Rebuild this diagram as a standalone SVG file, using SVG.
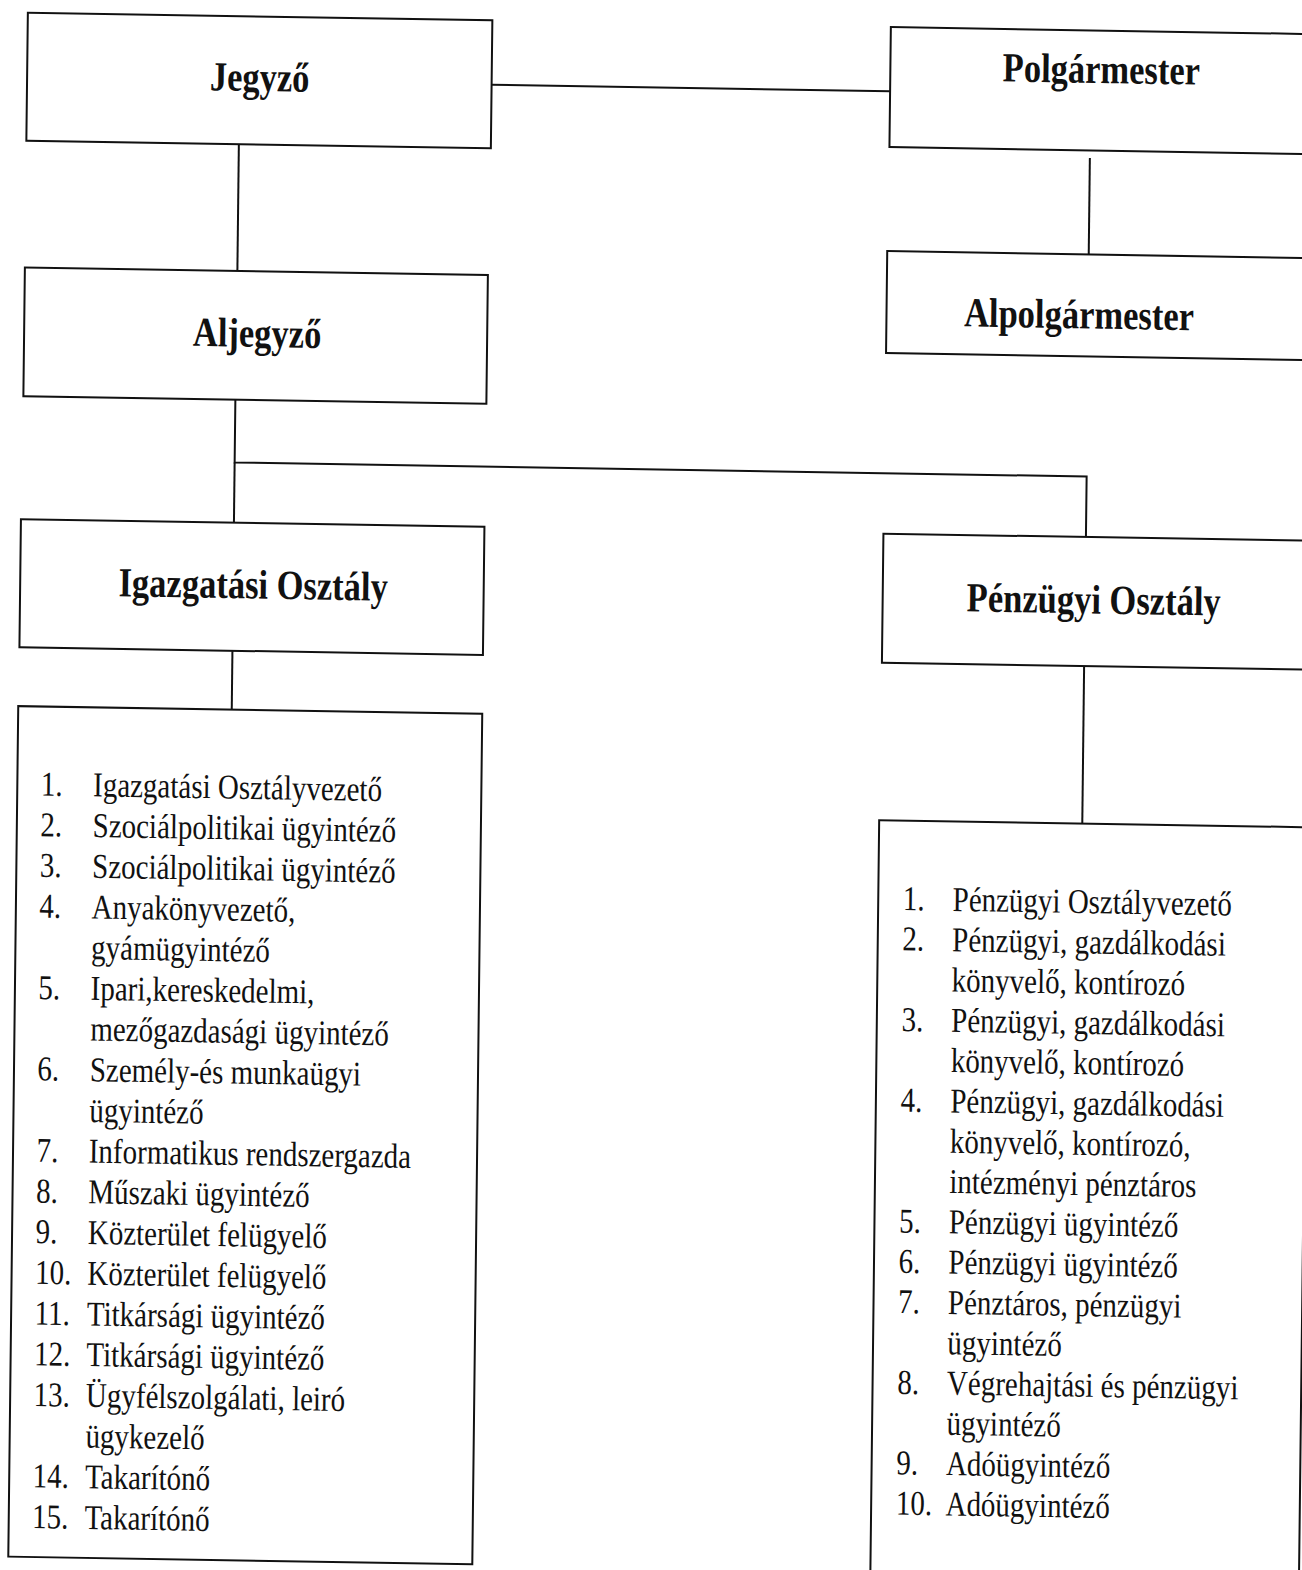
<svg xmlns="http://www.w3.org/2000/svg" width="1302" height="1570" viewBox="0 0 1302 1570">
<style>
.box{fill:#fff;stroke:#111;stroke-width:2}
.ln{fill:none;stroke:#111;stroke-width:2}
.t{font-family:"Liberation Serif","Times New Roman",serif;font-weight:bold;font-size:34.5px;fill:#111;text-anchor:middle}
.l{font-family:"Liberation Serif","Times New Roman",serif;font-size:29px;fill:#111}
</style>
<rect width="1302" height="1570" fill="#fff"/>
<g transform="matrix(1,0.0165,-0.0117,1,0,0)">
<g id="connectors">
<line class="ln" x1="492.5" y1="76.6" x2="891" y2="76.6"/>
<line class="ln" x1="1091.5" y1="140" x2="1091.5" y2="236.4"/>
<line class="ln" x1="240.5" y1="140.2" x2="240.5" y2="267"/>
<polyline class="ln" points="240,395.7 240,458.5 1092,458.5 1092,519"/>
<line class="ln" x1="240" y1="458.5" x2="240" y2="518.7"/>
<line class="ln" x1="240" y1="646.8" x2="240" y2="705.7"/>
<line class="ln" x1="1091.7" y1="648" x2="1091.7" y2="805.5"/>
</g>
<g id="jegyzo">
<rect class="box" x="28" y="12.2" width="464.5" height="128"/>
<text class="t" transform="translate(260.5,86.7) scale(1,1.2)">Jegyző</text>
</g>
<g id="polgarmester">
<rect class="box" x="891" y="12.4" width="460" height="120"/>
<text class="t" transform="translate(1102,64.8) scale(1,1.2)">Polgármester</text>
</g>
<g id="alpolgarmester">
<rect class="box" x="890" y="236.4" width="460" height="102"/>
<text class="t" transform="translate(1082.5,310.4) scale(1,1.2)">Alpolgármester</text>
</g>
<g id="aljegyzo">
<rect class="box" x="28" y="267" width="463" height="128.7"/>
<text class="t" transform="translate(261,342.6) scale(1,1.2)">Aljegyző</text>
</g>
<g id="igazgatasi">
<rect class="box" x="27" y="518.7" width="463.5" height="128.1"/>
<text class="t" transform="translate(260,594.1) scale(1,1.2)">Igazgatási Osztály</text>
</g>
<g id="penzugyi">
<rect class="box" x="889.5" y="519" width="460" height="129"/>
<text class="t" transform="translate(1100.5,595.3) scale(1,1.2)">Pénzügyi Osztály</text>
</g>
<g id="igazgatasi-lista">
<rect class="box" x="26.5" y="705.7" width="464" height="850.5"/>
<g transform="translate(0,794.6) scale(1,1.2)">
<text class="l" x="50" y="0">1.</text><text class="l" x="102.3" y="0">Igazgatási Osztályvezető</text>
<text class="l" x="50" y="33.92">2.</text><text class="l" x="102.3" y="33.92">Szociálpolitikai ügyintéző</text>
<text class="l" x="50" y="67.83">3.</text><text class="l" x="102.3" y="67.83">Szociálpolitikai ügyintéző</text>
<text class="l" x="50" y="101.75">4.</text><text class="l" x="102.3" y="101.75">Anyakönyvezető,</text>
<text class="l" x="102.3" y="135.67">gyámügyintéző</text>
<text class="l" x="50" y="169.58">5.</text><text class="l" x="102.3" y="169.58">Ipari,kereskedelmi,</text>
<text class="l" x="102.3" y="203.5">mezőgazdasági ügyintéző</text>
<text class="l" x="50" y="237.42">6.</text><text class="l" x="102.3" y="237.42">Személy-és munkaügyi</text>
<text class="l" x="102.3" y="271.33">ügyintéző</text>
<text class="l" x="50" y="305.25">7.</text><text class="l" x="102.3" y="305.25">Informatikus rendszergazda</text>
<text class="l" x="50" y="339.17">8.</text><text class="l" x="102.3" y="339.17">Műszaki ügyintéző</text>
<text class="l" x="50" y="373.08">9.</text><text class="l" x="102.3" y="373.08">Közterület felügyelő</text>
<text class="l" x="50" y="407">10.</text><text class="l" x="102.3" y="407">Közterület felügyelő</text>
<text class="l" x="50" y="440.92">11.</text><text class="l" x="102.3" y="440.92">Titkársági ügyintéző</text>
<text class="l" x="50" y="474.83">12.</text><text class="l" x="102.3" y="474.83">Titkársági ügyintéző</text>
<text class="l" x="50" y="508.75">13.</text><text class="l" x="102.3" y="508.75">Ügyfélszolgálati, leiró</text>
<text class="l" x="102.3" y="542.67">ügykezelő</text>
<text class="l" x="50" y="576.58">14.</text><text class="l" x="102.3" y="576.58">Takarítónő</text>
<text class="l" x="50" y="610.5">15.</text><text class="l" x="102.3" y="610.5">Takarítónő</text>
</g>
</g>
<g id="penzugyi-lista">
<rect class="box" x="888.6" y="805.5" width="428.6" height="820"/>
<g transform="translate(0,895) scale(1,1.2)">
<text class="l" x="913.3" y="0">1.</text><text class="l" x="963" y="0">Pénzügyi Osztályvezető</text>
<text class="l" x="913.3" y="33.58">2.</text><text class="l" x="963" y="33.58">Pénzügyi, gazdálkodási</text>
<text class="l" x="963" y="67.17">könyvelő, kontírozó</text>
<text class="l" x="913.3" y="100.75">3.</text><text class="l" x="963" y="100.75">Pénzügyi, gazdálkodási</text>
<text class="l" x="963" y="134.33">könyvelő, kontírozó</text>
<text class="l" x="913.3" y="167.92">4.</text><text class="l" x="963" y="167.92">Pénzügyi, gazdálkodási</text>
<text class="l" x="963" y="201.5">könyvelő, kontírozó,</text>
<text class="l" x="963" y="235.08">intézményi pénztáros</text>
<text class="l" x="913.3" y="268.67">5.</text><text class="l" x="963" y="268.67">Pénzügyi ügyintéző</text>
<text class="l" x="913.3" y="302.25">6.</text><text class="l" x="963" y="302.25">Pénzügyi ügyintéző</text>
<text class="l" x="913.3" y="335.83">7.</text><text class="l" x="963" y="335.83">Pénztáros, pénzügyi</text>
<text class="l" x="963" y="369.42">ügyintéző</text>
<text class="l" x="913.3" y="403">8.</text><text class="l" x="963" y="403">Végrehajtási és pénzügyi</text>
<text class="l" x="963" y="436.58">ügyintéző</text>
<text class="l" x="913.3" y="470.17">9.</text><text class="l" x="963" y="470.17">Adóügyintéző</text>
<text class="l" x="913.3" y="503.75">10.</text><text class="l" x="963" y="503.75">Adóügyintéző</text>
</g>
</g>
</g>
</svg>
